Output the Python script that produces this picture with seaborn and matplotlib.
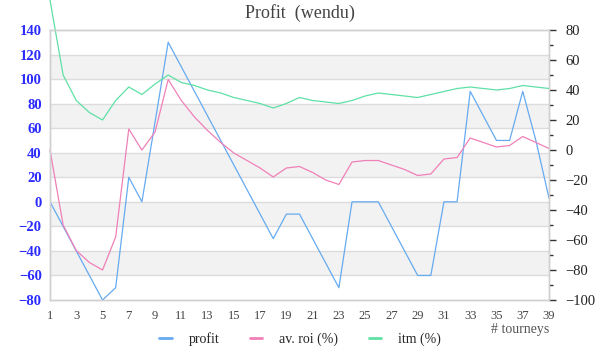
import matplotlib
matplotlib.use("Agg")
import matplotlib.pyplot as plt
import seaborn as sns
import pandas as pd
from matplotlib.ticker import MultipleLocator
from matplotlib.lines import Line2D

tourneys = list(range(1, 40))
profit = [0, -20, -40, -60, -80, -70, 20, 0, 65, 130,
          110, 90, 70, 50, 30, 10, -10, -30, -10, -10,
          -30, -50, -70, 0, 0, 0, -20, -40, -60, -60,
          0, 0, 90, 70, 50, 50, 90, 50, 3]
av_roi = [0, -50, -67, -75, -80, -58, 14, 0, 12, 47,
          33, 22, 13, 5, -2, -7, -12, -18, -12, -11,
          -15, -20, -23, -8, -7, -7, -10, -13, -17, -16,
          -6, -5, 8, 5, 2, 3, 9, 5, 1]
itm = [100, 50, 33, 25, 20, 33, 42, 37, 44, 50,
       45, 43, 40, 38, 35, 33, 31, 28, 31, 35,
       33, 32, 31, 33, 36, 38, 37, 36, 35, 37,
       39, 41, 42, 41, 40, 41, 43, 42, 41]

c_profit = "#66aaf0"
c_roi = "#f080b8"
c_itm = "#5fe0a5"

df = pd.DataFrame({"t": tourneys, "profit": profit, "roi": av_roi, "itm": itm})

sns.set_style("white")
plt.rcParams["font.family"] = ["Liberation Serif", "DejaVu Serif"]

fig = plt.figure(figsize=(6, 3.6), dpi=100)
ax = fig.add_axes([50 / 600, 60 / 360, 499 / 600, 270 / 360])
ax2 = ax.twinx()
ax2.patch.set_visible(False)

# alternating bands on the left axis
for lo in [100, 60, 20, -20, -60]:
    ax.axhspan(lo, lo + 20, color="#f2f2f2", zorder=0, lw=0)
for y in range(-60, 140, 20):
    ax.axhline(y, color="#dcdcdc", lw=1, zorder=0.5)

sns.lineplot(data=df, x="t", y="profit", ax=ax, color=c_profit, lw=0.9, zorder=3)
sns.lineplot(data=df, x="t", y="roi", ax=ax2, color=c_roi, lw=0.9)
sns.lineplot(data=df, x="t", y="itm", ax=ax2, color=c_itm, lw=0.9)
for ln in ax2.get_lines():
    ln.set_clip_on(False)

ax.set_xlim(1, 39)
ax.set_ylim(-80, 140)
ax2.set_ylim(-100, 80)
ax.set_xticks(range(1, 40, 2))
ax.yaxis.set_major_locator(MultipleLocator(20))
ax2.yaxis.set_major_locator(MultipleLocator(20))
ax2.yaxis.set_minor_locator(MultipleLocator(10))

for a in (ax, ax2):
    for s in a.spines.values():
        s.set_color("#d0d0d0")
        s.set_linewidth(1)
    a.set_xlabel("")
    a.set_ylabel("")

ax.tick_params(axis="y", length=0, pad=6, labelsize=10.5, labelcolor="#2b2bff")
for lbl in ax.get_yticklabels():
    lbl.set_fontweight("bold")
ax.tick_params(axis="x", length=0, pad=7, labelsize=9, labelcolor="#444444")
ax2.tick_params(axis="y", which="major", length=5, width=1, color="#333333",
                labelsize=10.5, labelcolor="#222222", pad=7)
ax2.tick_params(axis="y", which="minor", length=3, width=1, color="#333333")

fig.text(300 / 600, 1 - 13 / 360, "Profit  (wendu)", ha="center", va="center",
         fontsize=13, color="#444444")
fig.text(549 / 600, 1 - 329 / 360, "# tourneys", ha="right", va="center",
         fontsize=10, color="#555555")

handles = [Line2D([], [], color=c, lw=2) for c in (c_profit, c_roi, c_itm)]
fig.legend(handles, ["profit", "av. roi (%)", "itm (%)"], loc="center",
           bbox_to_anchor=(300 / 600, 1 - 339 / 360), ncol=3, frameon=False,
           fontsize=10, handlelength=0.9, columnspacing=2.2, handletextpad=1.2)

fig.savefig("out.png", dpi=100)
